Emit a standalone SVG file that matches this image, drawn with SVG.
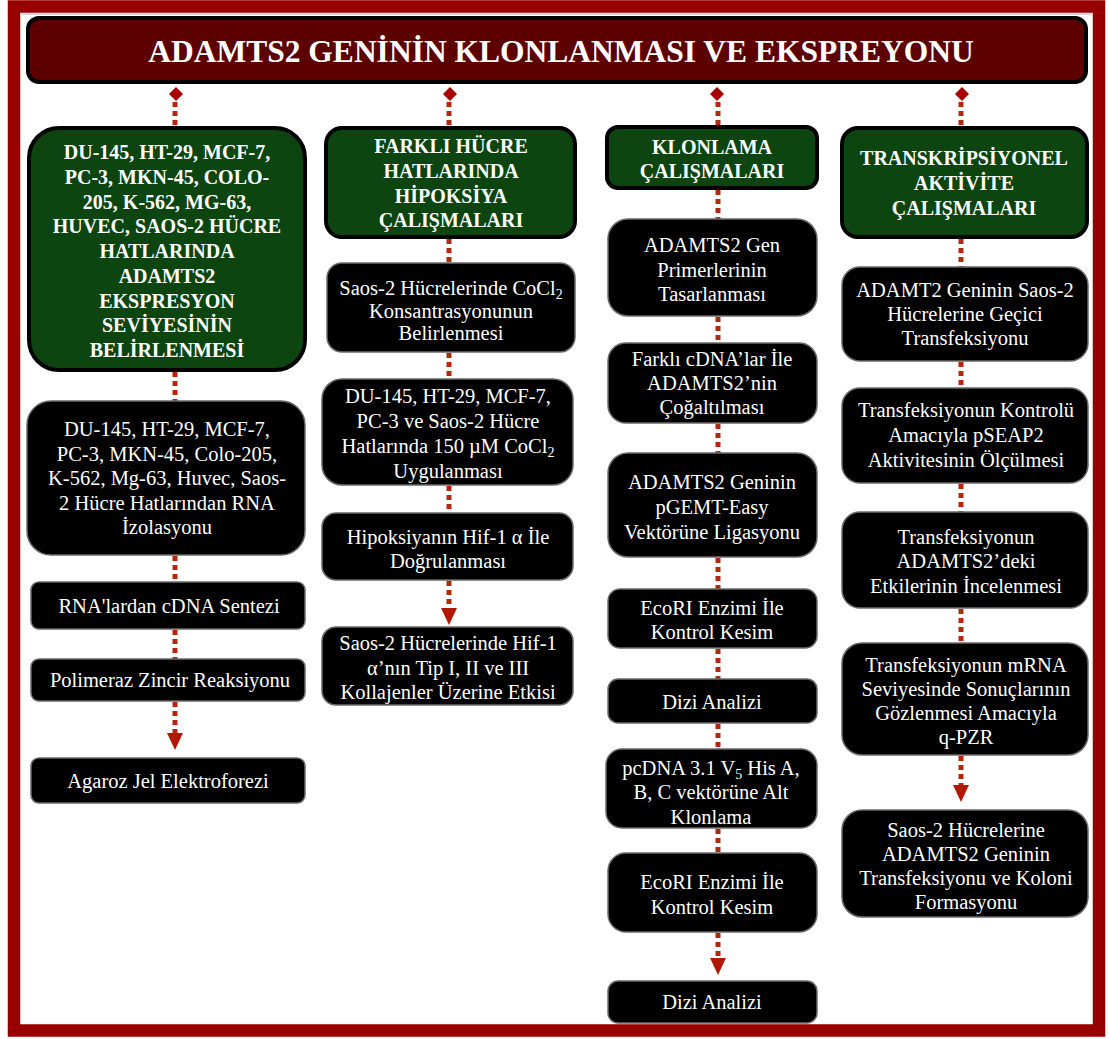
<svg xmlns="http://www.w3.org/2000/svg" width="1109" height="1039" viewBox="0 0 1109 1039">
<style>
text{font-family:"Liberation Serif","Times New Roman",serif;fill:#ffffff;text-anchor:middle}
.t{font-size:20.5px}
.b{font-size:20px;font-weight:bold}
.title{font-size:31.5px;font-weight:bold}
.g{fill:#0c4510;stroke:#000;stroke-width:4}
.k{fill:#000;stroke:#6a6a6a;stroke-width:1.5}
.dot{stroke:#b5260c;stroke-width:5;stroke-dasharray:5 4;fill:none}
.dia{fill:#a80000}
</style>
<defs>
<marker id="ah" markerUnits="userSpaceOnUse" markerWidth="17" markerHeight="16" viewBox="0 0 17 16" refX="0" refY="8" orient="auto">
<path d="M0,0 L17,8 L0,16 Z" fill="#b01800"/>
</marker>
</defs>
<rect x="0" y="0" width="1109" height="1039" fill="#fff"/>
<rect x="14" y="6.5" width="1085" height="1024" fill="none" stroke="#960000" stroke-width="12.5"/>
<line x1="20" y1="14" x2="1093" y2="14" stroke="#d8d8d8" stroke-width="2"/>

<g id="title">
<rect x="28" y="18" width="1058" height="64" rx="11" fill="#5c0000" stroke="#000" stroke-width="4"/>
<text class="title" x="561" y="62">ADAMTS2 GENİNİN KLONLANMASI VE EKSPREYONU</text>
</g>

<g id="connectors">
<polygon class="dia" points="176,87 183,94 176,101 169,94"/>
<polygon class="dia" points="450,87 457,94 450,101 443,94"/>
<polygon class="dia" points="717,87 724,94 717,101 710,94"/>
<polygon class="dia" points="962,87 969,94 962,101 955,94"/>
<line class="dot" x1="175" y1="102" x2="175" y2="127"/>
<line class="dot" x1="175" y1="372" x2="175" y2="401"/>
<line class="dot" x1="175" y1="556" x2="175" y2="582"/>
<line class="dot" x1="175" y1="630" x2="175" y2="659"/>
<line class="dot" x1="175" y1="702" x2="175" y2="733" marker-end="url(#ah)"/>
<line class="dot" x1="449" y1="102" x2="449" y2="128"/>
<line class="dot" x1="449" y1="239" x2="449" y2="263"/>
<line class="dot" x1="449" y1="353" x2="449" y2="379"/>
<line class="dot" x1="449" y1="486" x2="449" y2="513"/>
<line class="dot" x1="449" y1="581" x2="449" y2="608" marker-end="url(#ah)"/>
<line class="dot" x1="718" y1="102" x2="718" y2="126"/>
<line class="dot" x1="718" y1="190" x2="718" y2="219"/>
<line class="dot" x1="718" y1="317" x2="718" y2="343"/>
<line class="dot" x1="718" y1="424" x2="718" y2="453"/>
<line class="dot" x1="718" y1="558" x2="718" y2="589"/>
<line class="dot" x1="718" y1="649" x2="718" y2="679"/>
<line class="dot" x1="718" y1="724" x2="718" y2="749"/>
<line class="dot" x1="718" y1="829" x2="718" y2="853"/>
<line class="dot" x1="718" y1="933" x2="718" y2="958" marker-end="url(#ah)"/>
<line class="dot" x1="961" y1="102" x2="961" y2="127"/>
<line class="dot" x1="961" y1="239" x2="961" y2="267"/>
<line class="dot" x1="961" y1="362" x2="961" y2="388"/>
<line class="dot" x1="961" y1="484" x2="961" y2="512"/>
<line class="dot" x1="961" y1="609" x2="961" y2="643"/>
<line class="dot" x1="961" y1="756" x2="961" y2="785" marker-end="url(#ah)"/>
</g>

<!-- Column 1 -->
<g id="c1-head">
<rect class="g" x="29" y="128" width="276" height="242" rx="30"/>
<text class="b" x="167" y="159">DU-145, HT-29, MCF-7,</text>
<text class="b" x="167" y="183.75">PC-3, MKN-45, COLO-</text>
<text class="b" x="167" y="208.5">205, K-562, MG-63,</text>
<text class="b" x="167" y="233.25">HUVEC, SAOS-2 HÜCRE</text>
<text class="b" x="167" y="258">HATLARINDA</text>
<text class="b" x="167" y="282.75">ADAMTS2</text>
<text class="b" x="167" y="307.5">EKSPRESYON</text>
<text class="b" x="167" y="332.25">SEVİYESİNİN</text>
<text class="b" x="167" y="357">BELİRLENMESİ</text>
</g>
<g id="c1-n1">
<rect class="k" x="27" y="401" width="278" height="154" rx="24"/>
<text class="t" x="167" y="436">DU-145, HT-29, MCF-7,</text>
<text class="t" x="167" y="460.5">PC-3, MKN-45, Colo-205,</text>
<text class="t" x="167" y="485">K-562, Mg-63, Huvec, Saos-</text>
<text class="t" x="167" y="509.5">2 Hücre Hatlarından RNA</text>
<text class="t" x="167" y="534">İzolasyonu</text>
</g>
<g id="c1-n2">
<rect class="k" x="31" y="582" width="274" height="47" rx="8"/>
<text class="t" x="169" y="612.5">RNA'lardan cDNA Sentezi</text>
</g>
<g id="c1-n3">
<rect class="k" x="31" y="659" width="274" height="42" rx="8"/>
<text class="t" x="170" y="687">Polimeraz Zincir Reaksiyonu</text>
</g>
<g id="c1-n4">
<rect class="k" x="31" y="758" width="274" height="45" rx="8"/>
<text class="t" x="168" y="787.5">Agaroz Jel Elektroforezi</text>
</g>

<!-- Column 2 -->
<g id="c2-head">
<rect class="g" x="326" y="128" width="249" height="109" rx="16"/>
<text class="b" x="451" y="153">FARKLI HÜCRE</text>
<text class="b" x="451" y="178">HATLARINDA</text>
<text class="b" x="451" y="203">HİPOKSİYA</text>
<text class="b" x="451" y="227">ÇALIŞMALARI</text>
</g>
<g id="c2-n1">
<rect class="k" x="327" y="263" width="248" height="89" rx="15"/>
<text class="t" x="451" y="295">Saos-2 Hücrelerinde CoCl<tspan font-size="14" dy="4">2</tspan></text>
<text class="t" x="451" y="317.5">Konsantrasyonunun</text>
<text class="t" x="451" y="340">Belirlenmesi</text>
</g>
<g id="c2-n2">
<rect class="k" x="322" y="379" width="251" height="106" rx="20"/>
<text class="t" x="448" y="402.5">DU-145, HT-29, MCF-7,</text>
<text class="t" x="448" y="427.5">PC-3 ve Saos-2 Hücre</text>
<text class="t" x="448" y="452.5">Hatlarında 150 µM CoCl<tspan font-size="14" dy="4">2</tspan></text>
<text class="t" x="448" y="477.5">Uygulanması</text>
</g>
<g id="c2-n3">
<rect class="k" x="322" y="513" width="251" height="67" rx="14"/>
<text class="t" x="448" y="544">Hipoksiyanın Hif-1 α İle</text>
<text class="t" x="448" y="568">Doğrulanması</text>
</g>
<g id="c2-n4">
<rect class="k" x="322" y="627" width="251" height="78" rx="14"/>
<text class="t" x="448" y="650">Saos-2 Hücrelerinde Hif-1</text>
<text class="t" x="448" y="674.5">α’nın Tip I, II ve III</text>
<text class="t" x="448" y="699">Kollajenler Üzerine Etkisi</text>
</g>

<!-- Column 3 -->
<g id="c3-head">
<rect class="g" x="607" y="127" width="210" height="61" rx="11"/>
<text class="b" x="712" y="154">KLONLAMA</text>
<text class="b" x="712" y="178">ÇALIŞMALARI</text>
</g>
<g id="c3-n1">
<rect class="k" x="608" y="219" width="209" height="97" rx="20"/>
<text class="t" x="712" y="252">ADAMTS2 Gen</text>
<text class="t" x="712" y="277">Primerlerinin</text>
<text class="t" x="712" y="301">Tasarlanması</text>
</g>
<g id="c3-n2">
<rect class="k" x="608" y="343" width="209" height="80" rx="18"/>
<text class="t" x="712" y="366">Farklı cDNA’lar İle</text>
<text class="t" x="712" y="390">ADAMTS2’nin</text>
<text class="t" x="712" y="414">Çoğaltılması</text>
</g>
<g id="c3-n3">
<rect class="k" x="608" y="453" width="209" height="104" rx="20"/>
<text class="t" x="712" y="489">ADAMTS2 Geninin</text>
<text class="t" x="712" y="514">pGEMT-Easy</text>
<text class="t" x="712" y="539">Vektörüne Ligasyonu</text>
</g>
<g id="c3-n4">
<rect class="k" x="608" y="589" width="209" height="59" rx="12"/>
<text class="t" x="712" y="615">EcoRI Enzimi İle</text>
<text class="t" x="712" y="639">Kontrol Kesim</text>
</g>
<g id="c3-n5">
<rect class="k" x="608" y="679" width="209" height="44" rx="10"/>
<text class="t" x="712" y="709">Dizi Analizi</text>
</g>
<g id="c3-n6">
<rect class="k" x="606" y="749" width="211" height="79" rx="16"/>
<text class="t" x="711" y="775">pcDNA 3.1 V<tspan font-size="14" dy="4">5</tspan><tspan dy="-4"> His A,</tspan></text>
<text class="t" x="711" y="799">B, C vektörüne Alt</text>
<text class="t" x="711" y="824">Klonlama</text>
</g>
<g id="c3-n7">
<rect class="k" x="608" y="853" width="209" height="79" rx="18"/>
<text class="t" x="712" y="889">EcoRI Enzimi İle</text>
<text class="t" x="712" y="914">Kontrol Kesim</text>
</g>
<g id="c3-n8">
<rect class="k" x="608" y="981" width="209" height="42" rx="10"/>
<text class="t" x="712" y="1009">Dizi Analizi</text>
</g>

<!-- Column 4 -->
<g id="c4-head">
<rect class="g" x="842" y="128" width="245" height="109" rx="16"/>
<text class="b" x="964" y="165">TRANSKRİPSİYONEL</text>
<text class="b" x="964" y="190">AKTİVİTE</text>
<text class="b" x="964" y="215">ÇALIŞMALARI</text>
</g>
<g id="c4-n1">
<rect class="k" x="842" y="267" width="246" height="94" rx="18"/>
<text class="t" x="965" y="297">ADAMT2 Geninin Saos-2</text>
<text class="t" x="965" y="321">Hücrelerine Geçici</text>
<text class="t" x="965" y="345">Transfeksiyonu</text>
</g>
<g id="c4-n2">
<rect class="k" x="842" y="388" width="246" height="95" rx="18"/>
<text class="t" x="966" y="417">Transfeksiyonun Kontrolü</text>
<text class="t" x="966" y="442">Amacıyla pSEAP2</text>
<text class="t" x="966" y="467">Aktivitesinin Ölçülmesi</text>
</g>
<g id="c4-n3">
<rect class="k" x="842" y="512" width="246" height="96" rx="18"/>
<text class="t" x="966" y="544">Transfeksiyonun</text>
<text class="t" x="966" y="568">ADAMTS2’deki</text>
<text class="t" x="966" y="593">Etkilerinin İncelenmesi</text>
</g>
<g id="c4-n4">
<rect class="k" x="842" y="643" width="246" height="112" rx="20"/>
<text class="t" x="966" y="672">Transfeksiyonun mRNA</text>
<text class="t" x="966" y="696">Seviyesinde Sonuçlarının</text>
<text class="t" x="966" y="720">Gözlenmesi Amacıyla</text>
<text class="t" x="966" y="744">q-PZR</text>
</g>
<g id="c4-n5">
<rect class="k" x="842" y="810" width="246" height="107" rx="20"/>
<text class="t" x="966" y="837">Saos-2 Hücrelerine</text>
<text class="t" x="966" y="861">ADAMTS2 Geninin</text>
<text class="t" x="966" y="885">Transfeksiyonu ve Koloni</text>
<text class="t" x="966" y="909">Formasyonu</text>
</g>
</svg>
